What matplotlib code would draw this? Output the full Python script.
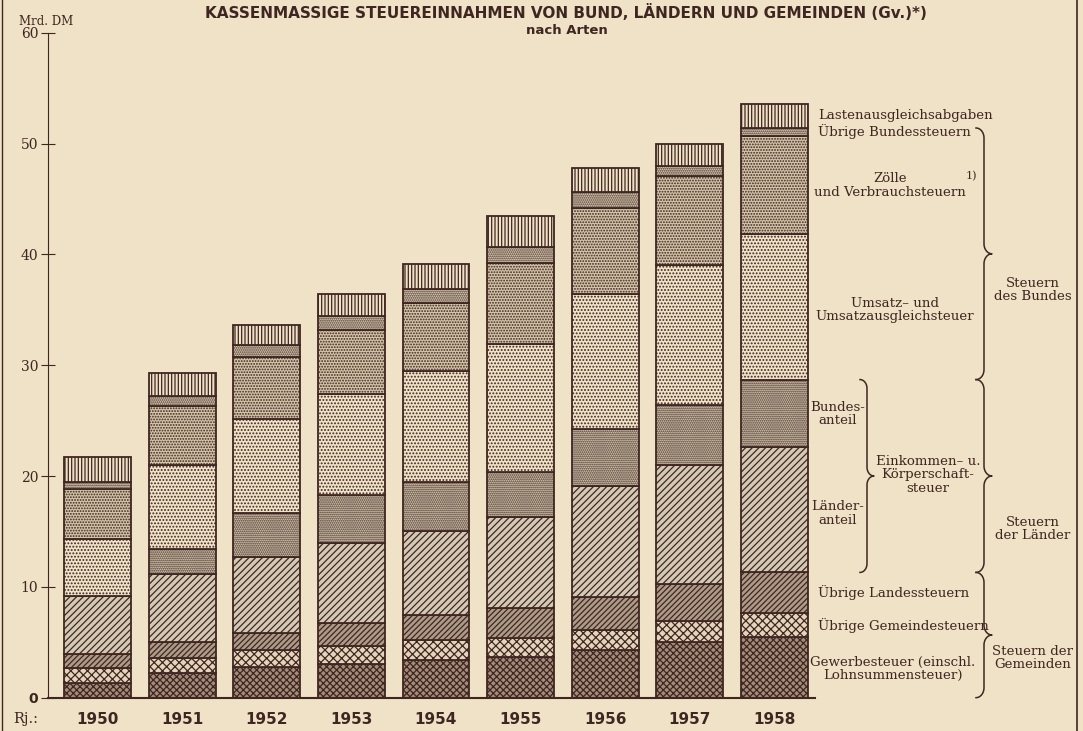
import numpy as np
import matplotlib.pyplot as plt
import matplotlib.transforms as mtransforms
from matplotlib.lines import Line2D

# Data (Mrd. DM)
years = ['1950', '1951', '1952', '1953', '1954', '1955', '1956', '1957', '1958']
gewerbe = [1.3, 2.2, 2.8, 3.0, 3.4, 3.7, 4.3, 5.0, 5.5]
gemeinde = [1.4, 1.4, 1.5, 1.7, 1.8, 1.7, 1.8, 1.9, 2.1]
landes = [1.2, 1.4, 1.5, 2.0, 2.3, 2.7, 3.0, 3.4, 3.7]
laenderanteil = [5.3, 6.2, 6.9, 7.3, 7.5, 8.2, 10.0, 10.7, 11.3]
bundesanteil = [0.0, 2.2, 4.0, 4.3, 4.5, 4.1, 5.1, 5.4, 6.1]
umsatz = [5.1, 7.6, 8.4, 9.1, 10.0, 11.5, 12.2, 12.6, 13.1]
zoelle = [4.5, 5.3, 5.6, 5.8, 6.1, 7.3, 7.8, 8.1, 8.9]
uebrige_bund = [0.7, 0.9, 1.1, 1.2, 1.3, 1.5, 1.4, 0.9, 0.7]
lasten = [2.2, 2.1, 1.8, 2.0, 2.2, 2.8, 2.2, 2.0, 2.2]

paper = '#f0e2c6'
ink = '#3f2622'

plt.rcParams['hatch.linewidth'] = 0.9
serif = 'DejaVu Serif'

fig = plt.figure(figsize=(10.83, 7.31), dpi=100, facecolor=paper)
ax = fig.add_axes([0.0443, 0.0456, 0.7083, 0.9097])
ax.set_facecolor(paper)

x = np.arange(len(years))
series = [
    (gewerbe, '#a38d78', 'xxxxx'),
    (gemeinde, '#e4d5ba', 'xxxx'),
    (landes, '#ad9b87', '//////'),
    (laenderanteil, '#d3c9b4', '/////'),
    (bundesanteil, '#d9cdb3', '........'),
    (umsatz, paper, '.....'),
    (zoelle, '#d4c4a8', '......'),
    (uebrige_bund, '#e2d5ba', '........'),
    (lasten, paper, '|||||'),
]
bottom = np.zeros(len(years))
for vals, fc, hatch in series:
    vals = np.array(vals)
    ax.bar(x, vals, width=0.79, bottom=bottom, facecolor=fc, edgecolor=ink,
           hatch=hatch, linewidth=1.3)
    bottom += vals

ax.set_xlim(-0.585, 8.48)
ax.set_ylim(0, 60)
for s in ['top', 'right']:
    ax.spines[s].set_visible(False)
ax.spines['left'].set_color(ink)
ax.spines['bottom'].set_color(ink)
ax.spines['bottom'].set_linewidth(1.5)
ax.set_yticks(range(0, 61, 10))
ax.set_yticklabels(['0'] + [str(v) for v in range(10, 61, 10)], family=serif,
                   fontsize=10, color=ink)
ax.get_yticklabels()[0].set_fontweight('bold')
ax.get_yticklabels()[0].set_family('DejaVu Sans')
ax.tick_params(axis='y', direction='inout', length=10, color=ink, pad=2)
ax.set_xticks(x)
ax.set_xticklabels(years, fontweight='bold', fontsize=11, color=ink)
ax.tick_params(axis='x', length=0, pad=10)

fig.text(0.012, 0.016, 'Rj.:', family=serif, fontsize=10.5, color=ink, va='center')
fig.text(0.018, 0.962, 'Mrd. DM', family=serif, fontsize=8.5, color=ink, va='bottom')

fig.text(0.523, 0.995, 'KASSENMASSIGE STEUEREINNAHMEN VON BUND, LÄNDERN UND GEMEINDEN (Gv.)*)',
         ha='center', va='top', fontsize=11, fontweight='bold', color=ink)
fig.text(0.523, 0.967, 'nach Arten', ha='center', va='top', fontsize=9.5,
         fontweight='bold', color=ink)

# annotations on the right
tr = mtransforms.blended_transform_factory(fig.transFigure, ax.transData)


def label(px, y, s, ha='left', **kw):
    ax.text(px / 1083, y, s, transform=tr, ha=ha, va='center', family=serif,
            fontsize=9.6, color=ink, clip_on=False, linespacing=1.05, **kw)


def brace(px, y_top, y_bot, w=7, r=0.9):
    xl = px / 1083
    dw = w / 1083
    y_tip = (y_top + y_bot) / 2
    t = np.linspace(0, np.pi / 2, 15)
    xs, ys = [], []
    # top hook
    xs += list(xl - dw + dw * np.sin(t)); ys += list(y_top - r + r * np.cos(t))
    # to tip
    xs += list(xl + dw * (1 - np.cos(t))); ys += list(y_tip + r - r * np.sin(t))
    xs += list(xl + dw * (1 - np.sin(t))); ys += list(y_tip - r * (1 - np.cos(t)))
    # bottom hook
    xs += list(xl - dw * (1 - np.cos(t))); ys += list(y_bot + r - r * np.sin(t))
    ax.add_line(Line2D(xs, ys, transform=tr, color=ink, lw=1.1, clip_on=False))


top58 = np.cumsum([gewerbe[-1], gemeinde[-1], landes[-1], laenderanteil[-1],
                   bundesanteil[-1], umsatz[-1], zoelle[-1], uebrige_bund[-1]])

label(818, top58[-1] + 1.1, 'Lastenausgleichsabgaben')
label(818, top58[-1] - 0.3, 'Übrige Bundessteuern')
label(890, 46.2, 'Zölle\nund Verbrauchsteuern', ha='center')
ax.text(966 / 1083, 47.1, '1)', transform=tr, family=serif, fontsize=8,
        color=ink, va='center', clip_on=False)
label(895, 35.0, 'Umsatz– und\nUmsatzausgleichsteuer', ha='center')
label(838, 25.6, 'Bundes-\nanteil', ha='center')
label(838, 16.6, 'Länder-\nanteil', ha='center')
label(928, 20.1, 'Einkommen– u.\nKörperschaft-\nsteuer', ha='center')
label(818, 9.5, 'Übrige Landessteuern')
label(818, 6.5, 'Übrige Gemeindesteuern')
label(893, 2.6, 'Gewerbesteuer (einschl.\nLohnsummensteuer)', ha='center')

brace(867, top58[4], top58[2], w=7, r=0.8)
brace(984, top58[7], top58[4], w=8, r=0.9)
brace(984, top58[4], top58[2], w=8, r=0.9)
brace(984, top58[2], 0.0, w=8, r=0.9)

label(1033, 36.8, 'Steuern\ndes Bundes', ha='center')
label(1033, 15.2, 'Steuern\nder Länder', ha='center')
label(1033, 3.6, 'Steuern der\nGemeinden', ha='center')

# frame lines of the page
fig.add_artist(Line2D([1077 / 1083] * 2, [0, 1], transform=fig.transFigure,
                      color=ink, lw=1.2))
fig.add_artist(Line2D([2 / 1083] * 2, [0, 1], transform=fig.transFigure,
                      color=ink, lw=1.0))

fig.savefig('out.png', dpi=100, facecolor=paper)
